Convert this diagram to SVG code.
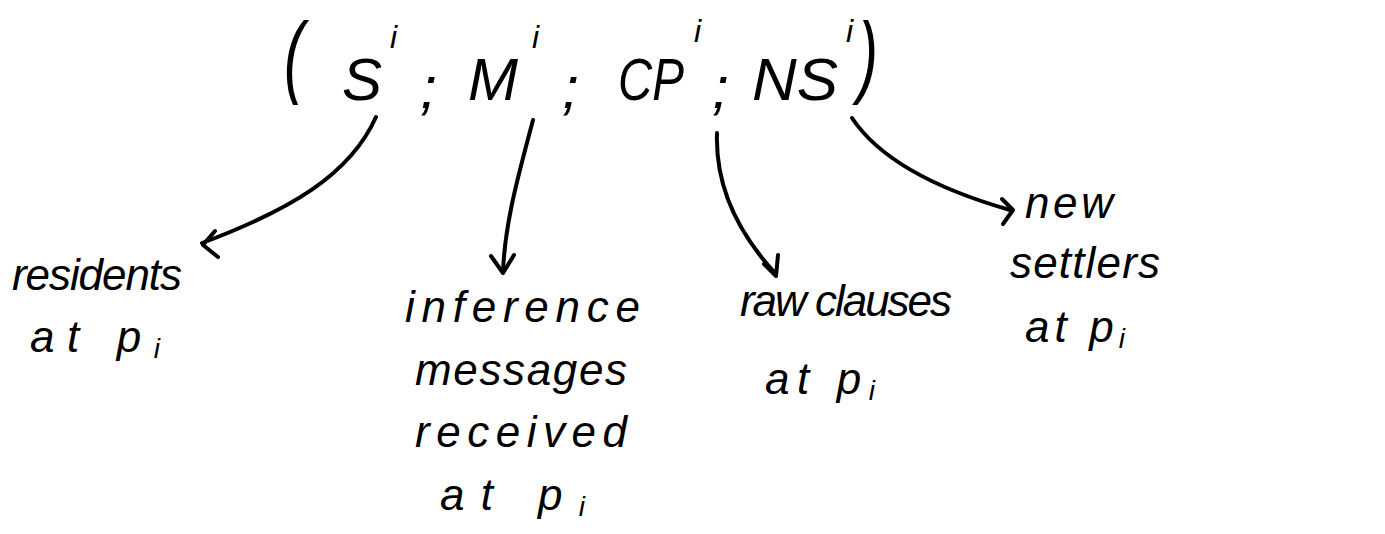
<svg xmlns="http://www.w3.org/2000/svg" width="1385" height="534" viewBox="0 0 1385 534">
<style>
.t{font-family:"Liberation Sans",Arial,sans-serif;font-style:italic;fill:#000}
.h{font-size:60px}
.s{font-size:32px}
.l{font-size:44px}
.c{fill:none;stroke:#000;stroke-width:4;stroke-linecap:round;stroke-linejoin:round}
</style>
<rect width="1385" height="534" fill="#fff"/>
<g id="tuple">
<text class="t h" transform="translate(284,86) scale(1,1.5)">(</text>
<text class="t h" x="342" y="100">S</text><text class="t s" x="390" y="48">i</text>
<text class="t h" x="420" y="108">;</text>
<text class="t h" x="468" y="100">M</text><text class="t s" x="532" y="48">i</text>
<text class="t h" x="562" y="108">;</text>
<text class="t h" x="618" y="100" textLength="66" lengthAdjust="spacingAndGlyphs">CP</text><text class="t s" x="694" y="42">i</text>
<text class="t h" x="712" y="108">;</text>
<text class="t h" x="752" y="100" textLength="86" lengthAdjust="spacingAndGlyphs">NS</text><text class="t s" x="846" y="42">i</text>
<text class="t h" transform="translate(858,86) scale(1,1.5)">)</text>
</g>
<g id="connectors">
<path class="c" d="M376,117 C350,175 290,210 202,243"/>
<path class="c" d="M215,231 L203,245 L218,257"/>
<path class="c" d="M533,120 C520,170 505,220 503,272"/>
<path class="c" d="M491,256 L503,273 L514,255"/>
<path class="c" d="M717,133 C715,190 740,235 775,273"/>
<path class="c" d="M764,264 L776,276 L778,255"/>
<path class="c" d="M852,118 C880,160 940,190 1010,210"/>
<path class="c" d="M1002,199 L1013,210 L1003,224"/>
</g>
<g id="residents">
<text class="t l" x="12" y="290" textLength="170" lengthAdjust="spacing">residents</text>
<text class="t l" x="30" y="352" textLength="130" lengthAdjust="spacing">at  p<tspan font-size="28" dy="6">i</tspan></text>
</g>
<g id="inference">
<text class="t l" x="405" y="322" textLength="235" lengthAdjust="spacing">inference</text>
<text class="t l" x="415" y="385" textLength="212" lengthAdjust="spacing">messages</text>
<text class="t l" x="415" y="447" textLength="212" lengthAdjust="spacing">received</text>
<text class="t l" x="440" y="510" textLength="145" lengthAdjust="spacing">at  p<tspan font-size="28" dy="6">i</tspan></text>
</g>
<g id="raw">
<text class="t l" x="740" y="316" textLength="212" lengthAdjust="spacing">raw clauses</text>
<text class="t l" x="765" y="394" textLength="110" lengthAdjust="spacing">at  p<tspan font-size="28" dy="6">i</tspan></text>
</g>
<g id="settlers">
<text class="t l" x="1025" y="218" textLength="88" lengthAdjust="spacing">new</text>
<text class="t l" x="1010" y="278" textLength="150" lengthAdjust="spacing">settlers</text>
<text class="t l" x="1025" y="342" textLength="100" lengthAdjust="spacing">at  p<tspan font-size="28" dy="6">i</tspan></text>
</g>
</svg>
